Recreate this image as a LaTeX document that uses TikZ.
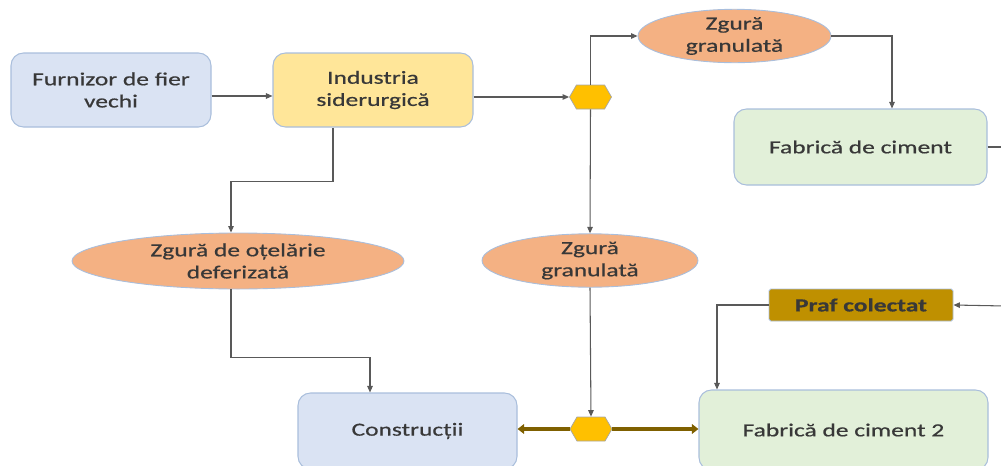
\documentclass[tikz,border=0pt]{standalone}
\usepackage{fontspec}
\setmainfont{Carlito}[FakeStretch=1.38,FakeBold=0.6]
\usepackage{tikz}
\usetikzlibrary{arrows.meta,shapes.geometric,shapes.symbols}
\definecolor{txt}{HTML}{383838}
\definecolor{edge}{HTML}{595959}
\definecolor{bord}{HTML}{A9BEDC}
\definecolor{bluefill}{HTML}{DAE3F3}
\definecolor{yellowfill}{HTML}{FFE699}
\definecolor{greenfill}{HTML}{E2F0D9}
\definecolor{orangefill}{HTML}{F4B183}
\definecolor{hexfill}{HTML}{FFC000}
\definecolor{prafill}{HTML}{BF9000}
\definecolor{olive}{HTML}{7F6000}

\begin{document}
\begin{tikzpicture}[
    font=\fontsize{10.5}{12.6}\selectfont,text=txt,
    box/.style={rectangle,rounded corners=2.5mm,draw=bord,line width=.6pt,align=center},
    blob/.style={ellipse,draw=bord,line width=.5pt,fill=orangefill,inner sep=0pt,align=center},
    hex/.style={signal,signal to=east and west,signal pointer angle=120,draw=gray!70,fill=hexfill,
      minimum width=8.4mm,minimum height=4.8mm,inner sep=0pt},
    e/.style={-{Triangle[length=1.3mm,width=1.1mm]},line width=.6pt,edge},
    thick/.style={{Triangle[length=1.3mm,width=1.9mm]}-,line width=1.8pt,olive}
  ]
    \useasboundingbox (0,0) rectangle (20.02,-9.32);
    % upper row
    \node[box,fill=bluefill,minimum width=4cm,minimum height=1.48cm] (furnizor) at (2.22,-1.80) {Furnizor de fier\\vechi};
    \node[box,fill=yellowfill,minimum width=4cm,minimum height=1.48cm] (industria) at (7.46,-1.80) {Industria\\siderurgică};
    \node[hex] (hexA) at (11.81,-1.94) {};
    \node[blob,minimum width=3.86cm,minimum height=.96cm] (zgTop) at (14.69,-0.72) {Zgură\\granulată};
    \node[box,fill=greenfill,minimum width=5.06cm,minimum height=1.52cm] (fabrica) at (17.21,-2.94) {Fabrică de ciment};
    % middle row
    \node[blob,minimum width=6.64cm,minimum height=1.12cm] (zgOtel) at (4.76,-5.22) {Zgură de oțelărie\\deferizată};
    \node[blob,minimum width=4.32cm,minimum height=1.02cm] (zgMid) at (11.80,-5.21) {Zgură\\granulată};
    \node[rectangle,rounded corners=1pt,draw=bord,line width=.5pt,fill=prafill,minimum width=3.68cm,minimum height=.64cm,
      font=\fontsize{10.5}{12.6}\selectfont\bfseries] (praf) at (17.22,-6.10) {Praf colectat};
    % lower row
    \node[box,fill=bluefill,minimum width=4.38cm,minimum height=1.52cm] (constr) at (8.15,-8.62) {Construcții};
    \node[hex] (hexB) at (11.82,-8.58) {};
    \node[box,fill=greenfill,minimum width=5.78cm,minimum height=1.6cm] (fabrica2) at (16.87,-8.60) {Fabrică de ciment 2};
    \coordinate (outA) at (20.1,-2.94);
    \coordinate (outB) at (20.1,-6.12);

    \draw[e] ([yshift=-.12cm]furnizor.east) -- ([yshift=-.12cm]industria.west);
    \draw[e] (industria.east |- hexA.west) -- (hexA.west);
    \draw[e] (hexA.north) |- (zgTop.west);
    \draw[e] (zgTop.east) -| ([xshift=.63cm]fabrica.north);
    \draw[edge,line width=.6pt] (fabrica.east) -- (outA);
    \draw[e] ([xshift=-.8cm]industria.south) -- ++(0,-1.08) -| ([xshift=-.14cm]zgOtel.north);
    \foreach \s/\t in {hexA/zgMid,zgMid/hexB} {\draw[e] (\s.south) -- (\t.north);}
    \draw[e] ([xshift=-.14cm]zgOtel.south) -- ++(0,-1.36) -| ([xshift=-.75cm]constr.north);
    \draw[e] (outB) -- (praf.east);
    \draw[e] (praf.west) -| ([xshift=-2.53cm]fabrica2.north);
    \draw[thick] (constr.east |- hexB) -- (hexB.west);
    \draw[thick] (fabrica2.west |- hexB) -- (hexB.east);
  \end{tikzpicture}
\end{document}
